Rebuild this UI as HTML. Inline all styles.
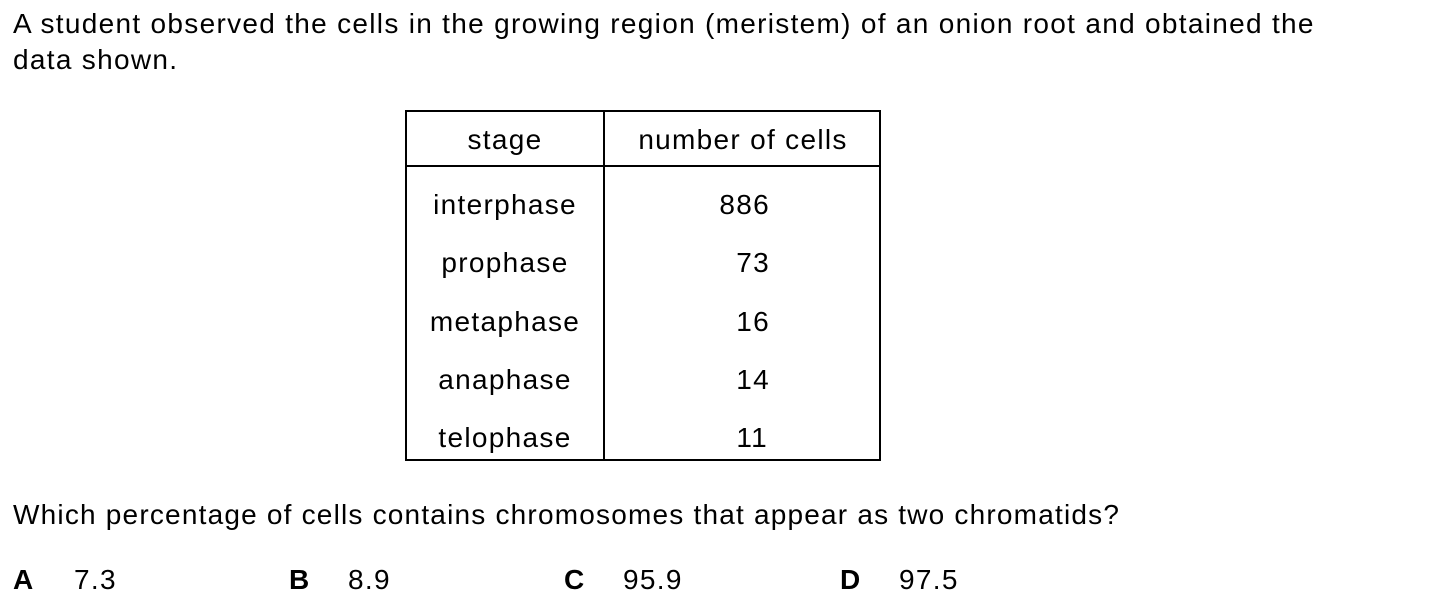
<!DOCTYPE html>
<html><head><meta charset="utf-8"><style>
body{margin:0;width:1430px;height:610px;background:#fff;position:relative;overflow:hidden;font-family:"Liberation Sans",Arial,sans-serif;font-size:28px;color:#000;letter-spacing:1.3px}
.t{position:absolute;white-space:nowrap;line-height:30px}
.c{position:absolute;white-space:nowrap;line-height:30px;transform:translateX(-50%);margin-left:1px}
.r{position:absolute;white-space:nowrap;line-height:30px;text-align:right;width:100px}
.ln{position:absolute;background:#000}
b{font-weight:bold}
</style></head><body>
<div class="t" style="left:13px;top:9px">A student observed the cells in the growing region (meristem) of an onion root and obtained the</div>
<div class="t" style="left:13px;top:45px">data shown.</div>
<div>
<div class="ln" style="left:405px;top:110px;width:476px;height:2px"></div>
<div class="ln" style="left:405px;top:165px;width:476px;height:2px"></div>
<div class="ln" style="left:405px;top:459px;width:476px;height:2px"></div>
<div class="ln" style="left:405px;top:110px;width:2px;height:351px"></div>
<div class="ln" style="left:603px;top:110px;width:2px;height:351px"></div>
<div class="ln" style="left:879px;top:110px;width:2px;height:351px"></div>
<div class="c" style="left:504px;top:125px">stage</div>
<div class="c" style="left:742px;top:125px">number of cells</div>
<div class="c" style="left:504px;top:190px">interphase</div>
<div class="c" style="left:504px;top:248px">prophase</div>
<div class="c" style="left:504px;top:307px">metaphase</div>
<div class="c" style="left:504px;top:365px">anaphase</div>
<div class="c" style="left:504px;top:423px">telophase</div>
<div class="r" style="left:670px;top:190px">886</div>
<div class="r" style="left:670px;top:248px">73</div>
<div class="r" style="left:670px;top:307px">16</div>
<div class="r" style="left:670px;top:365px">14</div>
<div class="r" style="left:668px;top:423px">11</div>
</div>
<div class="t" style="left:13px;top:500px;letter-spacing:1.2px">Which percentage of cells contains chromosomes that appear as two chromatids?</div>
<div class="t" style="left:13px;top:565px"><b>A</b></div>
<div class="t" style="left:74px;top:565px">7.3</div>
<div class="t" style="left:289px;top:565px"><b>B</b></div>
<div class="t" style="left:348px;top:565px">8.9</div>
<div class="t" style="left:564px;top:565px"><b>C</b></div>
<div class="t" style="left:623px;top:565px">95.9</div>
<div class="t" style="left:840px;top:565px"><b>D</b></div>
<div class="t" style="left:899px;top:565px">97.5</div>
</body></html>
